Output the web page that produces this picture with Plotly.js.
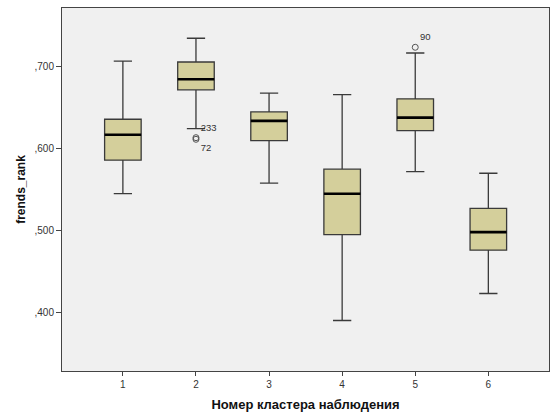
<!DOCTYPE html>
<html>
<head>
<meta charset="utf-8">
<script src="https://cdn.plot.ly/plotly-3.0.1.min.js"></script>
<style>html,body{margin:0;padding:0;background:#fff;}#chart{width:550px;height:412px;}</style>
</head>
<body>
<div id="chart"></div>
<script>
// Data
var clusters = [1, 2, 3, 4, 5, 6];
var upperWhisker = [0.707, 0.735, 0.668, 0.666, 0.717, 0.570];
var q3Values     = [0.636, 0.706, 0.645, 0.575, 0.661, 0.527];
var medians      = [0.617, 0.685, 0.634, 0.545, 0.638, 0.498];
var q1Values     = [0.586, 0.672, 0.610, 0.495, 0.622, 0.476];
var lowerWhisker = [0.545, 0.6245, 0.558, 0.390, 0.572, 0.423];

var outlierCluster = [2, 2, 5];
var outlierValues  = [0.6135, 0.6115, 0.724];
var outlierLabels  = ["233", "72", "90"];

var yTickVals = [0.4, 0.5, 0.6, 0.7];
var yTickText = [",400", ",500", ",600", ",700"];

var boxWidth = 0.5;

var boxTrace = {
  type: 'box',
  x: clusters,
  q1: q1Values,
  median: medians,
  q3: q3Values,
  lowerfence: lowerWhisker,
  upperfence: upperWhisker,
  width: boxWidth,
  whiskerwidth: 0.5,
  boxpoints: false,
  fillcolor: '#d4cf9b',
  line: {color: '#3a3a3a', width: 1.3},
  hoverinfo: 'skip',
  showlegend: false
};

// Thicker median lines, derived from the median array
var mx = [], my = [];
for (var i = 0; i < clusters.length; i++) {
  mx.push(clusters[i] - boxWidth / 2, clusters[i] + boxWidth / 2, null);
  my.push(medians[i], medians[i], null);
}
var medianTrace = {
  type: 'scatter', mode: 'lines', x: mx, y: my,
  line: {color: '#000', width: 2.6},
  hoverinfo: 'skip', showlegend: false
};

var outlierPos = ['top right', 'bottom right', 'top right'];
var outlierTrace = {
  type: 'scatter', mode: 'markers+text',
  x: outlierCluster, y: outlierValues,
  text: outlierLabels, textposition: outlierPos,
  textfont: {family: 'Liberation Sans, Arial, sans-serif', size: 9.5, color: '#333'},
  marker: {symbol: 'circle-open', size: 6, color: '#555', line: {width: 1}},
  cliponaxis: false,
  hoverinfo: 'skip', showlegend: false
};

var layout = {
  width: 550, height: 412,
  margin: {l: 62, r: 1, t: 8, b: 41},
  paper_bgcolor: '#ffffff',
  plot_bgcolor: '#f0f0f0',
  font: {family: 'Liberation Sans, Arial, sans-serif', size: 10, color: '#333'},
  showlegend: false,
  xaxis: {
    range: [0.167, 6.83],
    tickvals: clusters,
    ticktext: clusters.map(String),
    ticks: 'outside', ticklen: 4, tickcolor: '#444', tickwidth: 1,
    showgrid: false, zeroline: false,
    showline: true, linecolor: '#444', linewidth: 1, mirror: true,
    tickfont: {size: 10, color: '#333'},
    title: {text: 'Номер кластера наблюдения', standoff: 10,
            font: {family: 'Liberation Sans, Arial, sans-serif', size: 13, color: '#111', weight: 'bold'}}
  },
  yaxis: {
    range: [0.3283, 0.772],
    tickvals: yTickVals,
    ticktext: yTickText,
    ticks: 'outside', ticklen: 5, tickcolor: '#444', tickwidth: 1,
    showgrid: false, zeroline: false,
    showline: true, linecolor: '#444', linewidth: 1, mirror: true,
    tickfont: {size: 10, color: '#333'},
    title: {text: 'frends_rank', standoff: 6,
            font: {family: 'Liberation Sans, Arial, sans-serif', size: 12, color: '#111', weight: 'bold'}}
  }
};

Plotly.newPlot('chart', [boxTrace, medianTrace, outlierTrace], layout, {displayModeBar: false, staticPlot: true});
</script>
</body>
</html>
